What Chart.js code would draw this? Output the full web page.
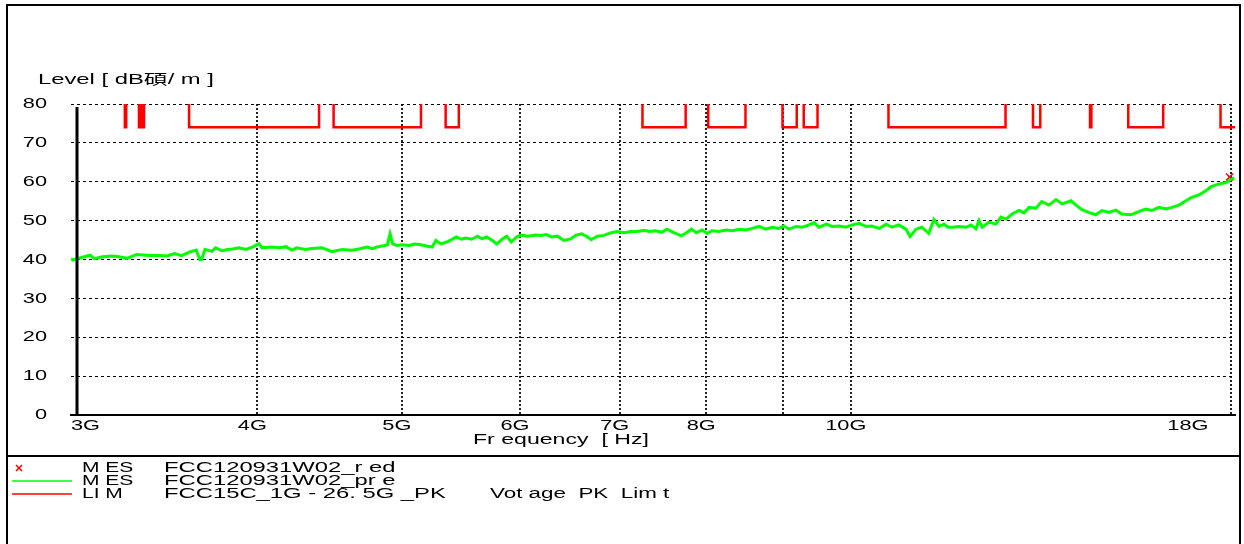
<!DOCTYPE html>
<html>
<head>
<meta charset="utf-8">
<script src="https://cdn.jsdelivr.net/npm/chart.js@4.4.0/dist/chart.umd.min.js"></script>
<style>
  html, body { margin: 0; padding: 0; background: #fff; }
  #wrap { width: 1244px; height: 544px; }
</style>
</head>
<body>
<div id="wrap"><canvas id="chart"></canvas></div>
<script>
// pre-scan trace (GHz / dB)
const freqGHz = [
  3.00, 3.01, 3.04, 3.09, 3.11, 3.15, 3.20, 3.23, 3.27, 3.32, 3.39, 3.44, 3.48, 3.52, 3.56, 3.60,
  3.64, 3.66, 3.67, 3.69, 3.73, 3.75, 3.79, 3.82, 3.85, 3.89, 3.93, 3.97, 4.01, 4.03, 4.09, 4.14,
  4.18, 4.22, 4.25, 4.31, 4.35, 4.42, 4.49, 4.56, 4.63, 4.68, 4.70, 4.74, 4.78, 4.81, 4.87, 4.89,
  4.91, 4.93, 4.96, 5.00, 5.06, 5.10, 5.15, 5.20, 5.24, 5.27, 5.31, 5.36, 5.44, 5.48, 5.52, 5.57,
  5.62, 5.66, 5.70, 5.75, 5.79, 5.84, 5.88, 5.92, 5.97, 6.01, 6.07, 6.15, 6.20, 6.25, 6.30, 6.36,
  6.42, 6.49, 6.54, 6.60, 6.65, 6.70, 6.76, 6.83, 6.91, 6.97, 7.05, 7.12, 7.19, 7.27, 7.32, 7.40,
  7.47, 7.53, 7.61, 7.70, 7.76, 7.82, 7.88, 7.95, 8.01, 8.07, 8.16, 8.25, 8.33, 8.42, 8.51, 8.59,
  8.68, 8.77, 8.86, 8.95, 9.02, 9.09, 9.19, 9.28, 9.38, 9.45, 9.52, 9.63, 9.72, 9.82, 9.93, 10.02,
  10.13, 10.24, 10.33, 10.45, 10.56, 10.66, 10.77, 10.89, 10.96, 11.06, 11.16, 11.28, 11.37, 11.46, 11.55, 11.62,
  11.69, 11.82, 11.95, 12.04, 12.13, 12.19, 12.25, 12.38, 12.51, 12.61, 12.71, 12.83, 12.97, 13.07, 13.17, 13.31,
  13.43, 13.58, 13.73, 13.86, 14.05, 14.16, 14.29, 14.44, 14.60, 14.74, 14.90, 15.06, 15.20, 15.41, 15.60, 15.77,
  15.92, 16.09, 16.27, 16.42, 16.60, 16.78, 16.93, 17.12, 17.30, 17.46, 17.65, 17.85, 18.01, 18.08
];
const levelDb = [
  40.2, 39.9, 40.4, 41.1, 40.2, 40.7, 40.9, 40.7, 40.3, 41.3, 41.0, 41.0, 40.9, 41.5, 41.0, 41.9,
  42.4, 40.0, 40.0, 42.6, 42.1, 43.0, 42.2, 42.6, 42.7, 43.0, 42.6, 43.2, 44.1, 43.0, 43.2, 43.0,
  43.3, 42.4, 43.0, 42.6, 42.8, 43.0, 42.0, 42.6, 42.4, 42.7, 42.9, 43.2, 42.8, 43.2, 43.6, 43.8,
  46.6, 44.0, 43.6, 43.8, 43.6, 44.0, 43.8, 43.4, 43.2, 44.9, 44.0, 44.5, 45.8, 45.2, 45.5, 45.2,
  46.0, 45.3, 45.8, 44.9, 44.0, 45.3, 46.0, 44.5, 45.8, 46.3, 46.0, 46.3, 46.2, 46.4, 45.8, 46.0,
  44.9, 45.3, 46.2, 46.6, 46.0, 45.1, 46.0, 46.2, 46.9, 47.2, 46.9, 47.2, 47.2, 47.5, 47.2, 47.4,
  47.0, 47.8, 46.9, 46.1, 46.9, 47.8, 46.9, 47.6, 46.7, 47.4, 47.2, 47.6, 47.4, 47.8, 47.6, 48.0,
  48.5, 47.8, 48.3, 48.0, 48.6, 47.8, 48.5, 48.3, 48.9, 49.5, 48.3, 49.1, 48.5, 48.6, 48.3, 48.9,
  49.3, 48.5, 48.6, 48.0, 49.1, 48.3, 48.9, 47.8, 45.9, 47.8, 48.3, 46.7, 50.3, 48.5, 49.1, 48.3,
  48.3, 48.5, 48.3, 48.9, 47.9, 50.0, 48.3, 49.6, 49.1, 50.9, 50.4, 51.7, 52.6, 52.0, 53.4, 53.2,
  54.9, 54.0, 55.4, 54.3, 55.1, 54.0, 52.8, 52.1, 51.5, 52.6, 52.1, 52.7, 51.7, 51.5, 52.3, 53.0,
  52.6, 53.4, 53.0, 53.4, 54.0, 55.1, 56.0, 56.6, 57.7, 58.8, 59.4, 59.8, 60.7, 61.0
];

// final measurement marker
const peakFreqGHz = [17.95];
const peakLevelDb = [61.2];

// FCC 15.205 restricted bands (GHz) with the 74 dB peak limit; outside them the line runs off the top
const limitBandsGHz = [
  [3.26, 3.267], [3.332, 3.339], [3.3458, 3.358], [3.6, 4.4], [4.5, 5.15], [5.35, 5.46],
  [7.25, 7.75], [8.025, 8.5], [9.0, 9.2], [9.3, 9.5], [10.6, 12.7], [13.25, 13.4],
  [14.47, 14.5], [15.35, 16.2], [17.7, 21.4]
];
const limitInBandDb = 74;
const limitOffScaleDb = 110;

const xTickGHz = [3, 4, 5, 6, 7, 8, 9, 10, 18];
const xTickLabels = ['3G', '4G', '5G', '6G', '7G', '8G', '', '10G', '18G'];
const yMin = 0, yMax = 80, yStep = 10;

const legendTags = ['M ES', 'M ES', 'LI M'];
const legendNames = ['FCC120931W02_r ed', 'FCC120931W02_pr e', 'FCC15C_1G - 26. 5G _PK'];
const legendNotes = ['', '', 'Vot age  PK  Lim t'];

const RED = '#ff0000';
const GREEN = '#00ff00';
const FONT = '"Liberation Sans", Arial, "Noto Sans CJK SC", sans-serif';

const tracePoints = freqGHz.map((f, i) => ({x: f * 1e9, y: levelDb[i]}));
const peakPoints = peakFreqGHz.map((f, i) => ({x: f * 1e9, y: peakLevelDb[i]}));

const limitPoints = [{x: 3e9, y: limitOffScaleDb}];
limitBandsGHz.forEach(([a, b]) => {
    limitPoints.push({x: a * 1e9, y: limitOffScaleDb});
    limitPoints.push({x: a * 1e9, y: limitInBandDb});
    limitPoints.push({x: b * 1e9, y: limitInBandDb});
    limitPoints.push({x: b * 1e9, y: limitOffScaleDb});
});

// the plotter's font is drawn wide, so stretch text horizontally
function wideText(ctx, text, x, y, align, sx) {
    ctx.save();
    ctx.translate(x, y);
    ctx.scale(sx, 1);
    ctx.textAlign = align;
    ctx.fillText(text, 0, 0);
    ctx.restore();
}

const decorations = {
    id: 'decorations',
    afterDraw(chart) {
        const {ctx, chartArea, scales} = chart;
        const xs = scales.x, ys = scales.y;
        ctx.save();

        // thick left axis line
        ctx.strokeStyle = '#000';
        ctx.lineWidth = 3;
        ctx.beginPath();
        ctx.moveTo(chartArea.left + 6, chartArea.top + 3);
        ctx.lineTo(chartArea.left + 6, chartArea.bottom);
        ctx.stroke();

        ctx.fillStyle = '#000';
        ctx.textBaseline = 'middle';

        // y tick labels
        ctx.font = '15px ' + FONT;
        for (let v = yMin; v <= yMax; v += yStep) {
            wideText(ctx, String(v), 47, ys.getPixelForValue(v), 'right', 1.45);
        }

        // x tick labels
        xTickGHz.forEach((v, i) => {
            const label = xTickLabels[i];
            if (!label) return;
            const px = xs.getPixelForValue(v * 1e9);
            const y = chartArea.bottom + 11;
            if (i === 0) {
                wideText(ctx, label, px, y, 'left', 1.45);
            } else if (i === xTickGHz.length - 1) {
                wideText(ctx, label, px - 23, y, 'right', 1.45);
            } else {
                wideText(ctx, label, px - 5, y, 'center', 1.45);
            }
        });

        // axis titles
        ctx.font = '14px ' + FONT;
        wideText(ctx, 'Level [ dB碩/ m ]', 38, 80, 'left', 1.7);
        wideText(ctx, 'Fr equency  [ Hz]', 473, 440, 'left', 1.65);

        // frame
        ctx.lineWidth = 2;
        ctx.beginPath();
        ctx.moveTo(7, 544);
        ctx.lineTo(7, 5);
        ctx.lineTo(1240, 5);
        ctx.lineTo(1240, 544);
        ctx.moveTo(7, 456);
        ctx.lineTo(1240, 456);
        ctx.stroke();

        // legend
        const rowY = [468, 481, 494];
        legendTags.forEach((tag, i) => {
            const y = rowY[i];
            if (i === 0) {
                ctx.strokeStyle = RED;
                ctx.lineWidth = 1.5;
                ctx.beginPath();
                ctx.moveTo(16, y - 3); ctx.lineTo(22, y + 3);
                ctx.moveTo(22, y - 3); ctx.lineTo(16, y + 3);
                ctx.stroke();
            } else {
                ctx.strokeStyle = i === 1 ? GREEN : RED;
                ctx.lineWidth = 1.5;
                ctx.beginPath();
                ctx.moveTo(12, y); ctx.lineTo(72, y);
                ctx.stroke();
            }
            ctx.fillStyle = '#000';
            wideText(ctx, tag, 82, y, 'left', 1.5);
            wideText(ctx, legendNames[i], 164, y, 'left', 1.7);
            if (legendNotes[i]) wideText(ctx, legendNotes[i], 490, y, 'left', 1.6);
        });
        ctx.restore();
    }
};

new Chart(document.getElementById('chart'), {
    type: 'line',
    data: {
        datasets: [{
            data: tracePoints,
            borderColor: GREEN,
            borderWidth: 3,
            pointRadius: 0,
            tension: 0,
        }, {
            data: limitPoints,
            borderColor: RED,
            borderWidth: 2.5,
            pointRadius: 0,
            tension: 0,
        }, {
            type: 'scatter',
            data: peakPoints,
            pointStyle: 'crossRot',
            pointRadius: 5,
            borderColor: RED,
            borderWidth: 1.5,
        }]
    },
    options: {
        responsive: true,
        maintainAspectRatio: false,
        animation: false,
        devicePixelRatio: 1,
        layout: {
            padding: {top: 104, right: 9, left: 0, bottom: 0}
        },
        scales: {
            x: {
                type: 'logarithmic',
                min: 3e9,
                max: 18.1e9,
                afterBuildTicks: (scale) => {
                    scale.ticks = xTickGHz.map((v) => ({value: v * 1e9}));
                },
                afterFit: (scale) => {
                    scale.height = 129;
                    scale.paddingLeft = 0;
                    scale.paddingRight = 0;
                },
                ticks: {
                    display: false
                },
                grid: {
                    color: (c) => (c.tick && c.tick.value === 3e9) ? 'rgba(0,0,0,0)' : '#222',
                    lineWidth: 2,
                    drawTicks: false
                },
                border: {
                    display: true,
                    color: '#000',
                    width: 2,
                    dash: [2, 2]
                }
            },
            y: {
                min: yMin,
                max: yMax,
                afterFit: (scale) => {
                    scale.width = 71;
                },
                ticks: {
                    stepSize: yStep,
                    display: false
                },
                grid: {
                    color: '#000',
                    lineWidth: 1,
                    drawTicks: false
                },
                border: {
                    display: false,
                    dash: [3, 3]
                }
            }
        },
        plugins: {
            legend: {
                display: false
            },
            tooltip: {
                enabled: false
            }
        }
    },
    plugins: [decorations]
});
</script>
</body>
</html>
